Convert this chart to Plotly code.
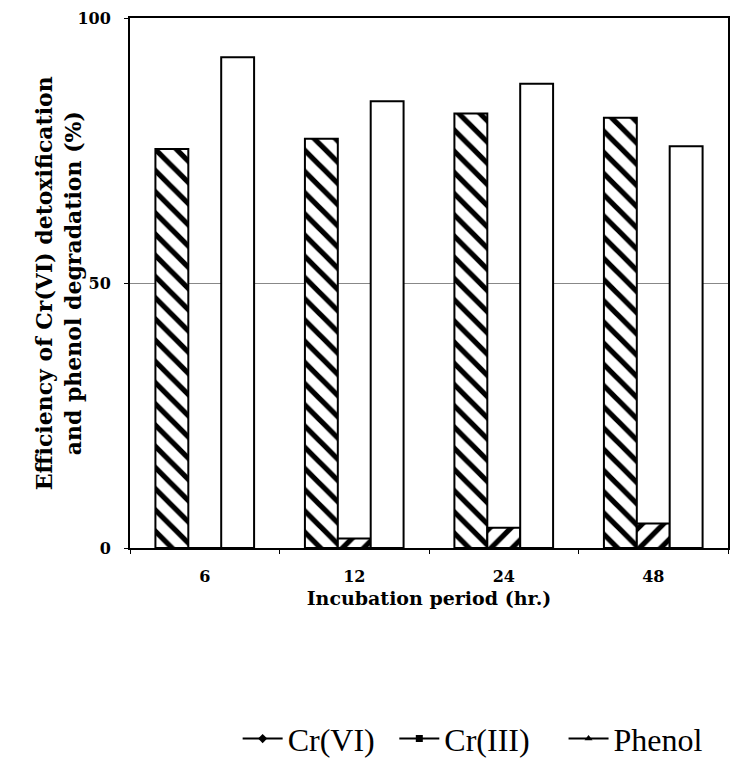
import plotly.graph_objects as go

# Incubation periods (hr.) and efficiencies (%)
periods = ["6", "12", "24", "48"]
cr6_detox = [75.3, 77.2, 82.0, 81.2]
cr3_formed = [0.0, 1.8, 3.8, 4.6]
phenol_deg = [92.6, 84.3, 87.6, 75.8]

legend_names = ["Cr(VI)", "Cr(III)", "Phenol"]
legend_symbols = ["diamond", "square", "triangle-up"]

axis_font = "DejaVu Serif"
legend_font = "Liberation Serif"
line_style = dict(color="black", width=2)

fig = go.Figure()

fig.add_trace(go.Bar(
    x=periods, y=cr6_detox, name="Cr(VI)", showlegend=False,
    marker=dict(color="white", line=line_style,
                pattern=dict(shape="\\", fgcolor="black", bgcolor="white",
                             fgopacity=1, size=15, solidity=0.35)),
))
fig.add_trace(go.Bar(
    x=periods, y=cr3_formed, name="Cr(III)", showlegend=False,
    marker=dict(color="white", line=line_style,
                pattern=dict(shape="/", fgcolor="black", bgcolor="white",
                             fgopacity=1, size=15, solidity=0.35)),
))
fig.add_trace(go.Bar(
    x=periods, y=phenol_deg, name="Phenol", showlegend=False,
    marker=dict(color="white", line=line_style),
))

# Legend entries drawn as line-with-marker keys, one legend box each
legend_ids = ["legend", "legend2", "legend3"]
for name, symbol, lg in zip(legend_names, legend_symbols, legend_ids):
    fig.add_trace(go.Scatter(
        x=[None], y=[None], name=name, mode="lines+markers", legend=lg,
        line=dict(color="black", width=2),
        marker=dict(symbol=symbol, color="black", size=7),
    ))

legend_common = dict(orientation="h", xanchor="left", y=-0.36, yanchor="middle",
                     font=dict(family=legend_font, size=32, color="black"),
                     itemwidth=40, bgcolor="rgba(0,0,0,0)")

fig.update_layout(
    width=731, height=767,
    margin=dict(l=130, r=1, t=18, b=218),
    paper_bgcolor="white", plot_bgcolor="white",
    barmode="group", bargap=0.34, bargroupgap=0,
    font=dict(family=axis_font, color="black"),
    legend=dict(x=0.18, **legend_common),
    legend2=dict(x=0.442, **legend_common),
    legend3=dict(x=0.725, **legend_common),
    xaxis=dict(
        title=dict(text="<b>Incubation period (hr.)</b>", font=dict(size=19), standoff=6),
        showline=True, linecolor="black", linewidth=2, mirror=True,
        ticks="outside", tickson="boundaries", ticklen=4, tickcolor="black",
        tickfont=dict(size=16), ticklabelstandoff=13,
        tickvals=periods, ticktext=[f"<b>{p}</b>" for p in periods],
    ),
    yaxis=dict(
        range=[0, 100], tickvals=[0, 50, 100],
        ticktext=["<b>0</b>", "<b>50</b>", "<b>100</b>"],
        showline=True, linecolor="black", linewidth=2, mirror=True,
        ticks="outside", ticklen=4, tickcolor="black", tickfont=dict(size=16),
        ticklabelstandoff=10,
        showgrid=True, gridcolor="#888888", gridwidth=1, zeroline=False,
    ),
    annotations=[dict(
        text="<b>Efficiency of Cr(VI) detoxification<br>and phenol degradation (%)</b>",
        xref="paper", yref="paper", x=-0.12, y=0.5, xanchor="center", yanchor="middle",
        textangle=-90, showarrow=False, font=dict(family=axis_font, size=22, color="black"),
    )],
)

fig.write_html("out.html")
